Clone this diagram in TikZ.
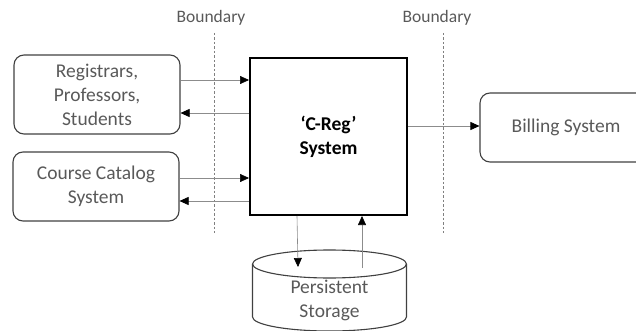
\documentclass[tikz,border=0pt]{standalone}
\usepackage{fontspec}
\setmainfont{Carlito}
\usetikzlibrary{arrows.meta}
\begin{document}
\begin{tikzpicture}[x=1pt,y=-1pt,
	actor/.style={draw=black!75,line width=1.1pt,rounded corners=10pt,align=center,text=black!65,font=\fontsize{19.5}{24}\selectfont,inner sep=0pt},
	conn/.style={draw=black!45,line width=0.6pt,-{Triangle[length=9pt,width=8pt,black]}},
	bound/.style={draw=black!50,line width=0.6pt,dash pattern=on 2.5pt off 2pt},
	label/.style={text=black!65,font=\fontsize{17.5}{20}\selectfont}]
	\useasboundingbox (0,0) rectangle (636,331);
	\node[actor,minimum width=166pt,minimum height=79pt] (reg) at (97,94.5) {Registrars,\\Professors,\\Students};
	\node[actor,minimum width=166pt,minimum height=69pt] (cat) at (96,186.5) {Course Catalog\\System};
	\node[draw=black,line width=2pt,minimum width=157pt,minimum height=157pt,align=center,font=\fontsize{19.5}{24}\selectfont\bfseries] (creg) at (328.5,136.5) {`C-Reg'\\System};
	\node[actor,minimum width=172pt,minimum height=69pt] (bill) at (566,127.5) {Billing System};
	% storage drum
	\draw[draw=black!75,line width=1.1pt] (252.5,264) -- (252.5,317) arc[start angle=180,end angle=360,x radius=77pt,y radius=14pt] -- (406.5,264);
	\draw[draw=black!75,line width=1.1pt] (329.5,264) ellipse [x radius=77pt,y radius=14pt];
	\node[align=center,text=black!65,font=\fontsize{19.5}{24}\selectfont,inner sep=0pt] (store) at (329.5,300) {Persistent\\Storage};
	\coordinate (sin) at (298,267);
	\coordinate (sout) at (362,268);
	\node[label] (lb) at (211,18) {Boundary};
	\node[label] (rb) at (437,18) {Boundary};
	\draw[bound] (214,33) coordinate (lt) -- (214,233) coordinate (lbot);
	\draw[bound] (443,33) coordinate (rt) -- (443,233) coordinate (rbot);
	\draw[conn] (reg.east |- 0,80) -- (creg.west |- 0,80);
	\draw[conn] (creg.west |- 0,113) -- (reg.east |- 0,113);
	\draw[conn] (cat.east |- 0,178) -- (creg.west |- 0,178);
	\draw[conn] (creg.west |- 0,201) -- (cat.east |- 0,201);
	\draw[conn] (creg.east |- 0,126) -- (bill.west |- 0,126);
	\draw[conn] (creg.south -| 297,0) -- (sin);
	\draw[conn] (sout) -- (creg.south -| sout);
\end{tikzpicture}
\end{document}
